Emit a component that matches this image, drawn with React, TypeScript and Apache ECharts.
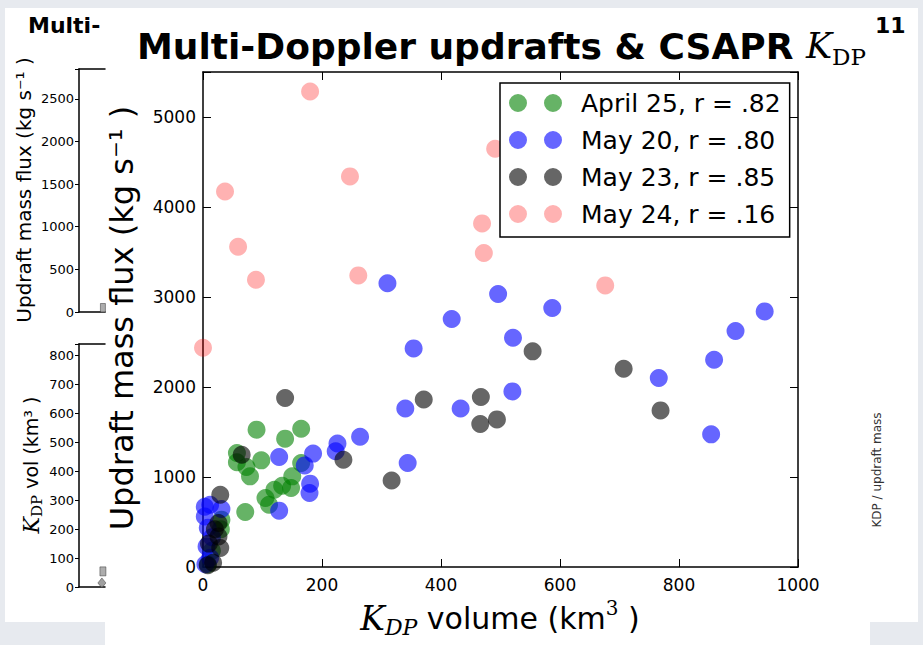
import React, { useEffect, useRef } from "react";
import * as echarts from "echarts";

// ---------- data ----------
const seriesNames = ["April 25, r = .82", "May 20, r = .80", "May 23, r = .85", "May 24, r = .16"];
const seriesColors = ["rgba(0,128,0,0.6)", "rgba(0,0,255,0.6)", "rgba(0,0,0,0.6)", "rgba(255,0,0,0.3)"];

const april25 = [
  [90, 1526], [165, 1537], [138, 1426], [57, 1266], [57, 1163], [98, 1185], [73, 1111], [79, 1007],
  [165, 1156], [150, 1007], [133, 903], [148, 877], [120, 859], [105, 766], [111, 692], [71, 611],
  [31, 526], [30, 420], [15, 180], [8, 30],
];
const may20 = [
  [310, 3152], [496, 3033], [587, 2878], [418, 2755], [521, 2548], [354, 2429], [944, 2840], [895, 2622],
  [859, 2303], [766, 2100], [520, 1951], [340, 1762], [433, 1762], [854, 1474], [264, 1448], [226, 1372],
  [223, 1287], [185, 1260], [128, 1222], [171, 1129], [344, 1155], [180, 926], [179, 822], [128, 626],
  [3, 670], [12, 692], [31, 644], [3, 562], [8, 437], [6, 229], [12, 103], [15, 330], [4, 30],
];
const may23 = [
  [554, 2396], [707, 2203], [769, 1740], [371, 1862], [467, 1889], [466, 1589], [494, 1640], [236, 1192],
  [138, 1878], [317, 962], [65, 1248], [29, 803], [26, 489], [26, 340], [29, 211], [17, 48], [8, 20],
  [20, 420], [10, 260],
];
const may24 = [
  [180, 5284], [491, 4648], [247, 4340], [37, 4173], [469, 3818], [59, 3559], [472, 3489], [261, 3240],
  [89, 3192], [676, 3129], [0, 2437],
];
const seriesData = [april25, may20, may23, may24];

// main axes ranges / tick steps
const xMin = 0, xMax = 1000, xStep = 200;
const yMin = 0, yMax = 5500, yStep = 1000;

// partially hidden background figure (inset axes)
const insetFluxMax = 2850, insetFluxStep = 500;
const insetVolMax = 840, insetVolStep = 100;
const insetFluxSquares = [[0.92, 47]];
const insetVolSquares = [[0.92, 54]];
const insetVolDiamonds = [[0.88, 14]];

const SANS = "DejaVu Sans";
const SERIF = "DejaVu Serif";
const twoDots = "path://M0,9a9,9 0 1,0 18,0a9,9 0 1,0 -18,0zM35,9a9,9 0 1,0 18,0a9,9 0 1,0 -18,0z";

export default function App() {
  const ref = useRef<HTMLDivElement>(null);
  useEffect(() => {
    if (!ref.current) return;
    const chart = echarts.init(ref.current, undefined, { renderer: "svg" });
    const mainTickFmt = (step: number) => (v: number) => (v % step === 0 ? String(v) : "");
    const blackLine = { lineStyle: { color: "#000", width: 1.5 } };

    const mainX = (pos: "bottom" | "top", showLabel: boolean) => ({
      type: "value", gridIndex: 0, position: pos, min: xMin, max: xMax, interval: xStep, z: 3,
      axisLine: { show: true, onZero: false, ...blackLine },
      axisTick: { show: true, inside: true, length: 8, lineStyle: { color: "#000", width: 1 } },
      axisLabel: { show: showLabel, margin: 9, fontSize: 17, color: "#000", fontFamily: SANS, formatter: mainTickFmt(xStep) },
      splitLine: { show: false },
    });
    const mainY = (pos: "left" | "right", showLabel: boolean) => ({
      type: "value", gridIndex: 0, position: pos, min: yMin, max: yMax, interval: yStep, z: 3,
      axisLine: { show: true, onZero: false, ...blackLine },
      axisTick: { show: true, inside: true, length: 8, lineStyle: { color: "#000", width: 1 } },
      axisLabel: { show: showLabel, margin: 7, fontSize: 17, color: "#000", fontFamily: SANS, formatter: mainTickFmt(yStep) },
      splitLine: { show: false },
    });
    const insetX = (grid: number, pos: "bottom" | "top") => ({
      type: "value", gridIndex: grid, position: pos, min: 0, max: 1,
      axisLine: { show: true, onZero: false, ...blackLine },
      axisTick: { show: false }, axisLabel: { show: false }, splitLine: { show: false },
    });
    const insetY = (grid: number, max: number, step: number) => ({
      type: "value", gridIndex: grid, position: "left", min: 0, max, interval: step,
      axisLine: { show: true, onZero: false, ...blackLine },
      axisTick: { show: true, inside: false, length: 4, lineStyle: { color: "#000", width: 1 } },
      axisLabel: { margin: 5, fontSize: 13, color: "#000", fontFamily: SANS, formatter: mainTickFmt(step) },
      splitLine: { show: false },
    });

    const option: any = {
      animation: false,
      backgroundColor: "transparent",
      title: {
        text: "{b|Multi-Doppler updrafts & CSAPR }{k|K}{s|DP}",
        left: 137, top: 24, padding: 0,
        textStyle: {
          fontWeight: "normal",
          rich: {
            b: { fontFamily: SANS, fontWeight: "bold", fontSize: 36, lineHeight: 44, color: "#000" },
            k: { fontFamily: SERIF, fontStyle: "italic", fontWeight: "normal", fontSize: 35, lineHeight: 44, color: "#000" },
            s: { fontFamily: SERIF, fontWeight: "normal", fontSize: 23, lineHeight: 26, verticalAlign: "bottom", color: "#000" },
          },
        },
      },
      legend: {
        left: 500, top: 83, orient: "vertical", selectedMode: false,
        backgroundColor: "#fff", borderColor: "#000", borderWidth: 1.5, borderRadius: 0,
        padding: [7, 9, 10, 9], itemGap: 11, itemWidth: 53, itemHeight: 18,
        textStyle: { fontFamily: SANS, fontSize: 25, lineHeight: 26, color: "#000", padding: [0, 0, 0, 14] },
        data: seriesNames.map((n) => ({ name: n, icon: twoDots })),
        z: 8,
      },
      grid: [
        { left: 203, top: 72, width: 595, height: 495 },
        { left: 79, top: 69, width: 26, height: 243 },
        { left: 79, top: 344, width: 26, height: 243 },
      ],
      xAxis: [mainX("bottom", true), mainX("top", false), insetX(1, "bottom"), insetX(1, "top"), insetX(2, "bottom"), insetX(2, "top")],
      yAxis: [mainY("left", true), mainY("right", false), insetY(1, insetFluxMax, insetFluxStep), insetY(2, insetVolMax, insetVolStep)],
      series: [
        ...seriesNames.map((name, i) => ({
          name, type: "scatter", xAxisIndex: 0, yAxisIndex: 0, data: seriesData[i],
          symbol: "circle", symbolSize: 18, z: 4,
          itemStyle: { color: seriesColors[i], opacity: 1 },
          emphasis: { disabled: true }, silent: true,
        })),
        {
          name: "inset flux", type: "scatter", xAxisIndex: 2, yAxisIndex: 2, data: insetFluxSquares,
          symbol: "rect", symbolSize: [5, 9], itemStyle: { color: "#999", borderColor: "#333", borderWidth: 0.6 }, silent: true,
        },
        {
          name: "inset vol sq", type: "scatter", xAxisIndex: 4, yAxisIndex: 3, data: insetVolSquares,
          symbol: "rect", symbolSize: [6, 9], itemStyle: { color: "#999", borderColor: "#333", borderWidth: 0.6 }, silent: true,
        },
        {
          name: "inset vol dia", type: "scatter", xAxisIndex: 4, yAxisIndex: 3, data: insetVolDiamonds,
          symbol: "diamond", symbolSize: [8, 10], itemStyle: { color: "#888", borderColor: "#333", borderWidth: 0.6 }, silent: true,
        },
      ],
      graphic: [
        // background figure texts
        { type: "text", x: 28, y: 25, silent: true,
          style: { text: "Multi-", fill: "#000", fontFamily: SANS, fontWeight: "bold", fontSize: 22, textAlign: "left", textVerticalAlign: "middle", align: "left", verticalAlign: "middle" } },
        { type: "text", x: 875, y: 25, silent: true,
          style: { text: "11", fill: "#000", fontFamily: SANS, fontWeight: "bold", fontSize: 22, textAlign: "left", textVerticalAlign: "middle", align: "left", verticalAlign: "middle" } },
        { type: "text", x: 24, y: 190, rotation: Math.PI / 2, silent: true,
          style: { text: "Updraft mass flux (kg s⁻¹ )", fill: "#000", fontFamily: SANS, fontSize: 20, textAlign: "center", textVerticalAlign: "middle", align: "center", verticalAlign: "middle" } },
        { type: "text", x: 31, y: 465, rotation: Math.PI / 2, silent: true,
          style: {
            text: "{k|K}{s|DP}{t| vol (km³ )}", textAlign: "center", textVerticalAlign: "middle", align: "center", verticalAlign: "middle",
            rich: {
              k: { fontFamily: SERIF, fontStyle: "italic", fontSize: 22, lineHeight: 26, fill: "#000", color: "#000" },
              s: { fontFamily: SERIF, fontSize: 15, lineHeight: 16, verticalAlign: "bottom", fill: "#000", color: "#000" },
              t: { fontFamily: SANS, fontSize: 19, lineHeight: 26, fill: "#000", color: "#000" },
            },
          } },
        { type: "text", x: 877, y: 470, rotation: Math.PI / 2, silent: true,
          style: { text: "KDP / updraft mass", fill: "#333", fontFamily: SANS, fontSize: 12, textAlign: "center", textVerticalAlign: "middle", align: "center", verticalAlign: "middle" } },
        // main axis names
        { type: "text", x: 122, y: 318, rotation: Math.PI / 2, silent: true, z: 5,
          style: { text: "Updraft mass flux (kg s⁻¹ )", fill: "#000", fontFamily: SANS, fontSize: 32, textAlign: "center", textVerticalAlign: "middle", align: "center", verticalAlign: "middle" } },
        { type: "text", x: 500, y: 618, silent: true, z: 5,
          style: {
            text: "{k|K}{s|DP}{t| volume (km}{p|3}{t| )}", textAlign: "center", textVerticalAlign: "middle", align: "center", verticalAlign: "middle",
            rich: {
              k: { fontFamily: SERIF, fontStyle: "italic", fontSize: 33, lineHeight: 40, color: "#000", fill: "#000" },
              s: { fontFamily: SERIF, fontStyle: "italic", fontSize: 22, lineHeight: 24, verticalAlign: "bottom", color: "#000", fill: "#000" },
              t: { fontFamily: SANS, fontSize: 30, lineHeight: 40, color: "#000", fill: "#000" },
              p: { fontFamily: SERIF, fontSize: 20, lineHeight: 26, verticalAlign: "top", color: "#000", fill: "#000" },
            },
          } },
      ],
    };
    chart.setOption(option);
    return () => chart.dispose();
  }, []);

  return (
    <div style={{ position: "absolute", left: 0, top: 0, width: 923, height: 645, background: "#e7eaef", overflow: "hidden" }}>
      <div style={{ position: "absolute", left: 5, top: 8, width: 913, height: 614, background: "#fff" }} />
      <div style={{ position: "absolute", left: 105, top: 20, width: 765, height: 625, background: "#fff" }} />
      <div ref={ref} style={{ position: "absolute", left: 0, top: 0, width: 923, height: 645 }} />
    </div>
  );
}
